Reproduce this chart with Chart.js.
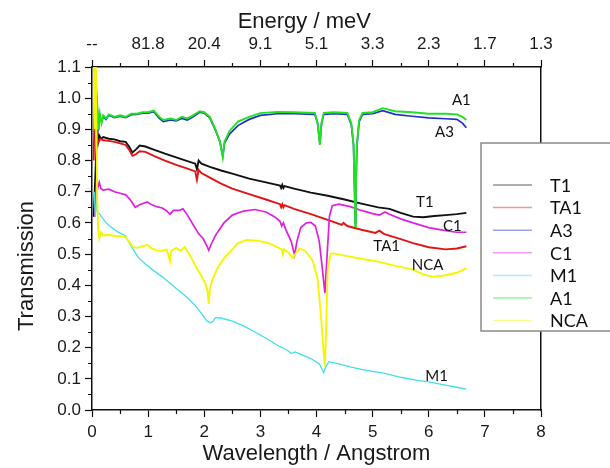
<!DOCTYPE html>
<html>
<head>
<meta charset="utf-8">
<script src="https://cdn.jsdelivr.net/npm/chart.js@4.4.1/dist/chart.umd.min.js"></script>
<style>
  body { margin: 0; background: #fff; }
  #wrap { width: 610px; height: 468px; }
</style>
</head>
<body>
<div id="wrap"><canvas id="chart" width="610" height="468"></canvas></div>
<script>
// [wavelength (Angstrom), transmission]
const t1 = [[0.03,0.62],[0.06,0.75],[0.09,0.9],[0.11,0.86],[0.13,0.88],[0.16,0.87],[0.2,0.875],[0.3,0.87],[0.4,0.868],[0.5,0.862],[0.6,0.86],[0.66,0.845],[0.72,0.826],[0.78,0.835],[0.85,0.848],[0.95,0.845],[1.1,0.835],[1.3,0.822],[1.5,0.81],[1.7,0.798],[1.84,0.79],[1.87,0.772],[1.9,0.8],[1.95,0.79],[2.1,0.78],[2.3,0.768],[2.5,0.758],[2.8,0.742],[3.1,0.73],[3.35,0.72],[3.37,0.712],[3.39,0.722],[3.41,0.712],[3.43,0.718],[3.6,0.71],[3.9,0.697],[4.2,0.687],[4.5,0.675],[4.8,0.662],[5.1,0.65],[5.3,0.645],[5.5,0.632],[5.72,0.62],[5.9,0.618],[6.1,0.622],[6.3,0.625],[6.5,0.628],[6.67,0.632]];
const ta1 = [[0.03,0.8],[0.05,1.0],[0.07,0.95],[0.09,0.87],[0.12,0.86],[0.15,0.87],[0.2,0.865],[0.3,0.863],[0.4,0.86],[0.5,0.855],[0.6,0.85],[0.66,0.835],[0.72,0.815],[0.78,0.82],[0.85,0.83],[0.95,0.828],[1.1,0.815],[1.3,0.8],[1.5,0.786],[1.7,0.774],[1.84,0.765],[1.87,0.738],[1.9,0.77],[1.95,0.76],[2.1,0.745],[2.3,0.726],[2.5,0.71],[2.8,0.692],[3.1,0.675],[3.35,0.66],[3.37,0.65],[3.39,0.66],[3.41,0.65],[3.43,0.657],[3.6,0.645],[3.9,0.628],[4.2,0.61],[4.45,0.594],[4.48,0.6],[4.55,0.59],[4.8,0.578],[5.05,0.568],[5.12,0.575],[5.2,0.565],[5.5,0.548],[5.72,0.535],[6.0,0.522],[6.3,0.515],[6.5,0.518],[6.67,0.525]];
const a3 = [[0.02,1.15],[0.05,1.1],[0.08,1.0],[0.1,0.95],[0.12,0.91],[0.14,0.94],[0.17,0.925],[0.2,0.94],[0.25,0.932],[0.3,0.945],[0.4,0.938],[0.5,0.942],[0.6,0.938],[0.7,0.947],[0.8,0.948],[0.9,0.952],[1.0,0.952],[1.1,0.957],[1.2,0.935],[1.27,0.925],[1.4,0.93],[1.5,0.927],[1.6,0.935],[1.7,0.93],[1.8,0.94],[1.92,0.955],[2.0,0.952],[2.1,0.937],[2.2,0.897],[2.28,0.86],[2.33,0.815],[2.36,0.855],[2.45,0.885],[2.6,0.912],[2.8,0.932],[3.0,0.945],[3.3,0.95],[3.6,0.95],[3.97,0.948],[4.02,0.92],[4.06,0.855],[4.09,0.92],[4.13,0.948],[4.3,0.95],[4.55,0.948],[4.62,0.915],[4.66,0.85],[4.68,0.7],[4.69,0.6],[4.7,0.7],[4.72,0.85],[4.76,0.925],[4.82,0.948],[5.0,0.95],[5.18,0.96],[5.4,0.948],[5.7,0.942],[6.0,0.937],[6.3,0.934],[6.5,0.932],[6.6,0.92],[6.67,0.905]];
const c1 = [[0.05,0.62],[0.08,0.74],[0.1,0.71],[0.13,0.73],[0.16,0.71],[0.2,0.705],[0.3,0.708],[0.4,0.7],[0.5,0.695],[0.6,0.69],[0.68,0.675],[0.77,0.65],[0.85,0.658],[0.98,0.667],[1.05,0.66],[1.15,0.652],[1.25,0.648],[1.32,0.64],[1.39,0.628],[1.45,0.64],[1.55,0.64],[1.62,0.645],[1.7,0.625],[1.8,0.595],[1.9,0.565],[1.98,0.55],[2.05,0.525],[2.08,0.512],[2.12,0.53],[2.2,0.56],[2.35,0.6],[2.5,0.625],[2.7,0.638],[2.9,0.643],[3.1,0.635],[3.25,0.62],[3.35,0.605],[3.38,0.59],[3.41,0.6],[3.45,0.58],[3.55,0.54],[3.61,0.497],[3.65,0.54],[3.72,0.585],[3.82,0.6],[3.9,0.602],[3.98,0.59],[4.05,0.54],[4.1,0.46],[4.15,0.375],[4.19,0.5],[4.23,0.62],[4.28,0.655],[4.4,0.66],[4.6,0.652],[4.8,0.64],[5.0,0.63],[5.12,0.625],[5.22,0.635],[5.3,0.628],[5.5,0.613],[5.72,0.6],[6.0,0.585],[6.3,0.575],[6.5,0.57],[6.67,0.57]];
const m1 = [[0.04,0.7],[0.06,0.62],[0.08,0.66],[0.1,0.635],[0.15,0.625],[0.25,0.6],[0.35,0.585],[0.45,0.572],[0.59,0.56],[0.7,0.525],[0.82,0.49],[0.95,0.468],[1.1,0.447],[1.25,0.427],[1.4,0.405],[1.5,0.39],[1.6,0.375],[1.7,0.36],[1.83,0.337],[1.95,0.31],[2.05,0.285],[2.12,0.28],[2.16,0.285],[2.2,0.296],[2.3,0.295],[2.5,0.285],[2.7,0.27],[2.9,0.25],[3.1,0.23],[3.35,0.203],[3.45,0.195],[3.55,0.182],[3.62,0.186],[3.7,0.18],[3.9,0.165],[4.05,0.148],[4.1,0.13],[4.13,0.12],[4.17,0.14],[4.22,0.155],[4.4,0.148],[4.6,0.138],[4.8,0.13],[5.0,0.124],[5.2,0.118],[5.5,0.105],[5.8,0.095],[6.0,0.09],[6.3,0.08],[6.5,0.073],[6.67,0.067]];
const a1 = [[0.02,1.15],[0.05,1.12],[0.08,1.02],[0.1,0.96],[0.12,0.9],[0.14,0.95],[0.17,0.92],[0.2,0.945],[0.25,0.935],[0.3,0.948],[0.4,0.94],[0.5,0.945],[0.6,0.94],[0.7,0.95],[0.8,0.95],[0.9,0.955],[1.0,0.955],[1.1,0.96],[1.2,0.94],[1.27,0.93],[1.4,0.935],[1.5,0.93],[1.6,0.94],[1.7,0.935],[1.8,0.945],[1.92,0.958],[2.0,0.955],[2.1,0.94],[2.2,0.9],[2.28,0.86],[2.33,0.81],[2.36,0.86],[2.45,0.895],[2.6,0.925],[2.8,0.94],[3.0,0.952],[3.3,0.956],[3.6,0.955],[3.97,0.953],[4.02,0.92],[4.06,0.85],[4.09,0.92],[4.13,0.953],[4.3,0.955],[4.55,0.953],[4.62,0.92],[4.66,0.85],[4.68,0.7],[4.69,0.59],[4.7,0.7],[4.72,0.85],[4.76,0.93],[4.82,0.953],[5.0,0.955],[5.18,0.968],[5.4,0.958],[5.7,0.955],[6.0,0.95],[6.3,0.95],[6.5,0.948],[6.6,0.94],[6.67,0.93]];
const nca = [[0.03,1.15],[0.05,0.9],[0.07,1.1],[0.09,0.7],[0.11,0.58],[0.13,0.55],[0.16,0.57],[0.2,0.56],[0.3,0.562],[0.4,0.558],[0.5,0.557],[0.59,0.555],[0.66,0.54],[0.73,0.522],[0.8,0.52],[0.9,0.525],[0.98,0.53],[1.05,0.52],[1.15,0.512],[1.25,0.51],[1.33,0.515],[1.37,0.49],[1.39,0.478],[1.41,0.51],[1.5,0.52],[1.58,0.51],[1.65,0.523],[1.75,0.495],[1.85,0.46],[1.95,0.43],[2.02,0.405],[2.06,0.38],[2.08,0.34],[2.1,0.39],[2.15,0.42],[2.25,0.46],[2.37,0.49],[2.5,0.515],[2.6,0.535],[2.75,0.545],[2.95,0.543],[3.15,0.535],[3.3,0.522],[3.38,0.515],[3.4,0.5],[3.42,0.515],[3.5,0.505],[3.58,0.487],[3.64,0.505],[3.7,0.518],[3.8,0.51],[3.93,0.48],[4.02,0.42],[4.08,0.3],[4.13,0.18],[4.15,0.14],[4.17,0.25],[4.2,0.45],[4.25,0.5],[4.3,0.503],[4.5,0.495],[4.8,0.485],[5.12,0.475],[5.4,0.462],[5.72,0.45],[5.9,0.435],[6.07,0.427],[6.3,0.432],[6.5,0.44],[6.67,0.455]];

const seriesNames = ['T1', 'TA1', 'A3', 'C1', 'M1', 'A1', 'NCA'];
const seriesData = [t1, ta1, a3, c1, m1, a1, nca];
const seriesColors = ['#111111', '#e01414', '#2030c8', '#e020e0', '#40e0ea', '#22e022', '#f6f600'];
const seriesWidths = [1.9, 1.9, 1.7, 1.7, 1.3, 1.9, 1.9];

// top axis: energy in meV at each wavelength tick
const wavelengthTicks = [0, 1, 2, 3, 4, 5, 6, 7, 8];
const energyLabels = ['--', '81.8', '20.4', '9.1', '5.1', '3.3', '2.3', '1.7', '1.3'];

// text written next to the curves (wavelength, transmission)
const curveLabels = [
    { text: 'A1', x: 6.58, y: 0.994 },
    { text: 'A3', x: 6.28, y: 0.89 },
    { text: 'T1', x: 5.93, y: 0.665 },
    { text: 'C1', x: 6.42, y: 0.59 },
    { text: 'TA1', x: 5.25, y: 0.526 },
    { text: 'NCA', x: 5.98, y: 0.465 },
    { text: 'M1', x: 6.14, y: 0.11 }
];

const tickFont = { family: 'Liberation Sans', size: 17 };
const titleFont = { family: 'Liberation Sans', size: 22 };

// minor ticks, curve labels and the boxed legend
const extras = {
    id: 'extras',
    afterDraw(c) {
        const ctx = c.ctx, xs = c.scales.x, ys = c.scales.y, a = c.chartArea;
        ctx.save();
        ctx.strokeStyle = '#111';
        ctx.lineWidth = 1.2;
        ctx.beginPath();
        for (let v = 0.5; v < 8; v += 1) {
            const px = Math.round(xs.getPixelForValue(v)) + 0.5;
            ctx.moveTo(px, a.bottom); ctx.lineTo(px, a.bottom + 4);
            ctx.moveTo(px, a.top); ctx.lineTo(px, a.top - 4);
        }
        for (let i = 0; i < 11; i++) {
            const py = Math.round(ys.getPixelForValue(0.05 + i * 0.1)) + 0.5;
            ctx.moveTo(a.left, py); ctx.lineTo(a.left - 4, py);
        }
        ctx.stroke();

        ctx.font = '15px Lato';
        ctx.fillStyle = '#111';
        ctx.textAlign = 'center';
        ctx.textBaseline = 'middle';
        curveLabels.forEach(l => ctx.fillText(l.text, xs.getPixelForValue(l.x), ys.getPixelForValue(l.y)));

        // legend
        ctx.fillStyle = '#fff';
        ctx.fillRect(481, 143, 140, 188);
        ctx.strokeStyle = '#8a8a8a';
        ctx.lineWidth = 1.5;
        ctx.strokeRect(481, 143, 140, 188);
        ctx.font = '18px Lato';
        ctx.textAlign = 'left';
        seriesNames.forEach((name, i) => {
            const y = 185 + i * 22.6;
            ctx.globalAlpha = 0.45;
            ctx.strokeStyle = seriesColors[i];
            ctx.lineWidth = 1.5;
            ctx.beginPath();
            ctx.moveTo(493, y); ctx.lineTo(532, y);
            ctx.stroke();
            ctx.globalAlpha = 1;
            ctx.fillStyle = '#111';
            ctx.fillText(name, 550, y + 1);
        });
        ctx.restore();
    }
};

const ctx = document.getElementById('chart').getContext('2d');
new Chart(ctx, {
    type: 'line',
    data: {
        datasets: seriesNames.map((name, i) => ({
            label: name,
            data: seriesData[i].map(p => ({ x: p[0], y: p[1] })),
            borderColor: seriesColors[i],
            borderWidth: seriesWidths[i],
            pointRadius: 0,
            fill: false,
            tension: 0,
            order: seriesNames.length - i
        }))
    },
    options: {
        responsive: false,
        animation: false,
        layout: { padding: 0 },
        plugins: { legend: { display: false }, tooltip: { enabled: false } },
        scales: {
            x: {
                type: 'linear', position: 'bottom', min: 0, max: 8,
                afterFit: s => { s.height = 58; },
                ticks: { stepSize: 1, font: tickFont, color: '#1a1a1a', padding: 5, maxRotation: 0 },
                afterBuildTicks: s => { s.ticks = wavelengthTicks.map(v => ({ value: v })); },
                grid: { drawOnChartArea: false, tickLength: 7, color: '#111', tickWidth: 1.2 },
                border: { color: '#111', width: 1.5 },
                title: { display: true, text: 'Wavelength / Angstrom', font: titleFont, color: '#1a1a1a', padding: { top: 0, bottom: 1 } }
            },
            x2: {
                type: 'linear', position: 'top', min: 0, max: 8,
                afterFit: s => { s.height = 67; },
                afterBuildTicks: s => { s.ticks = wavelengthTicks.map(v => ({ value: v })); },
                ticks: { font: tickFont, color: '#1a1a1a', padding: 5, maxRotation: 0,
                    callback: (v, i) => energyLabels[i] },
                grid: { drawOnChartArea: false, tickLength: 7, color: '#111', tickWidth: 1.2 },
                border: { color: '#111', width: 1.5 },
                title: { display: true, text: 'Energy / meV    ', font: titleFont, color: '#1a1a1a', padding: { top: 9, bottom: 0 } }
            },
            y: {
                min: 0, max: 1.1,
                afterFit: s => { s.width = 92; },
                ticks: { stepSize: 0.1, font: tickFont, color: '#1a1a1a', padding: 4,
                    callback: v => Number(v).toFixed(1) },
                grid: { drawOnChartArea: false, tickLength: 7, color: '#111', tickWidth: 1.2 },
                border: { color: '#111', width: 1.5 },
                title: { display: true, text: 'Transmission         ', font: titleFont, color: '#1a1a1a', padding: { top: 14, bottom: 0 } }
            },
            y2: {
                position: 'right', min: 0, max: 1.1,
                afterFit: s => { s.width = 69; },
                ticks: { display: false },
                grid: { drawOnChartArea: false, drawTicks: false },
                border: { color: '#111', width: 1.5 }
            }
        }
    },
    plugins: [extras]
});
</script>
</body>
</html>
